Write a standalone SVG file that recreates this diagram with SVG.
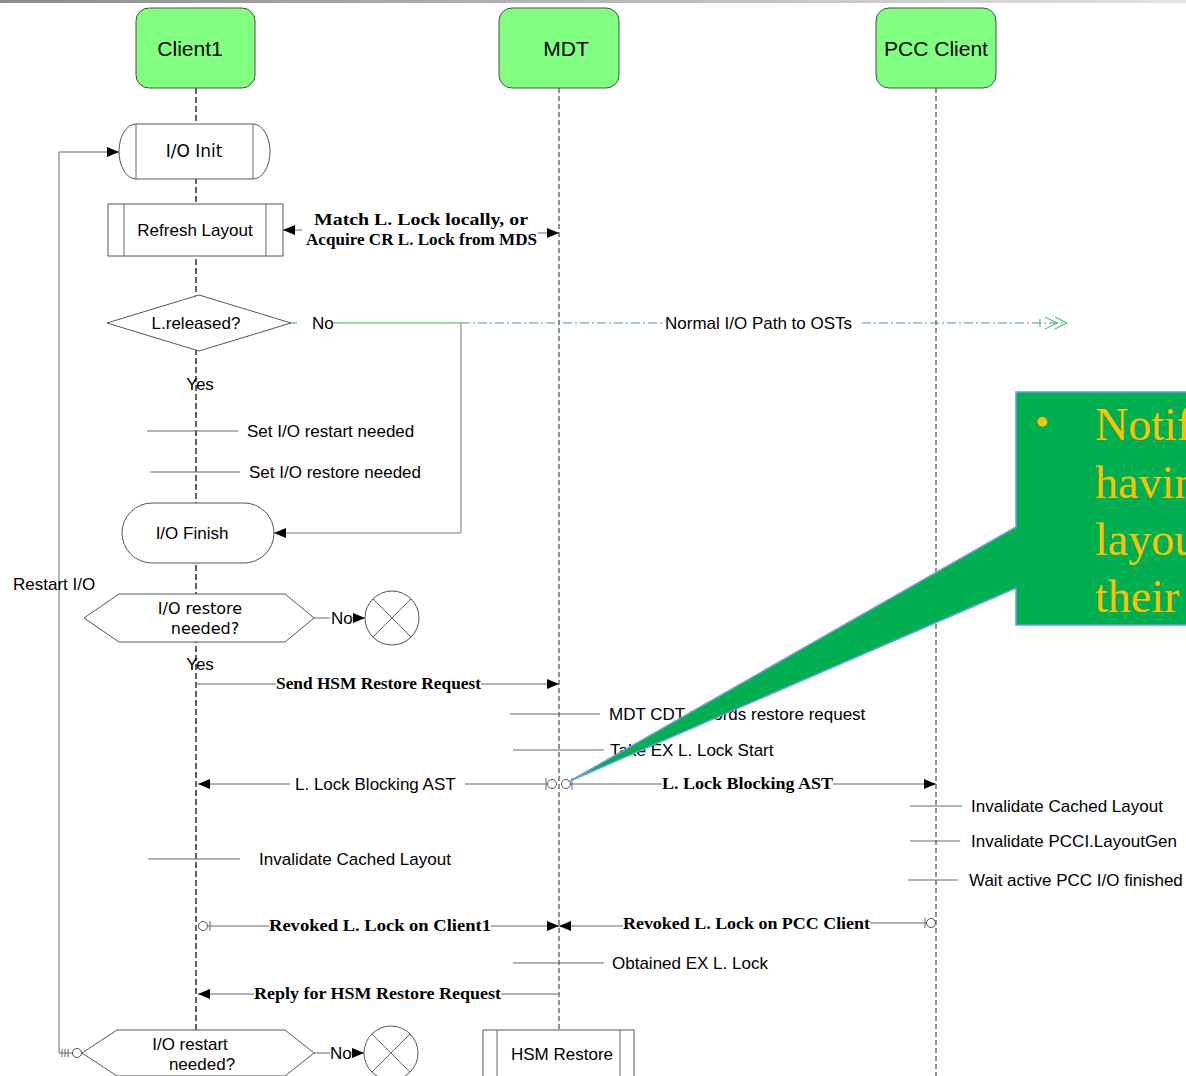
<svg xmlns="http://www.w3.org/2000/svg" width="1186" height="1076" viewBox="0 0 1186 1076">
  <defs>
    <linearGradient id="topbar" x1="0" y1="0" x2="1" y2="0">
      <stop offset="0" stop-color="#8c8c8c"/>
      <stop offset="1" stop-color="#e2e2e2"/>
    </linearGradient>
    <marker id="ah" viewBox="0 0 12 12" refX="12" refY="6" markerWidth="12" markerHeight="12" markerUnits="userSpaceOnUse" orient="auto">
      <path d="M0,1 L12,6 L0,11 Z" fill="#000"/>
    </marker>
    <style>
      .lbl { font-family: "Liberation Sans", Arial, sans-serif; font-size: 17px; fill: #000; }
      .big { font-size: 17px; }
      .head-t { font-family: "Liberation Sans", Arial, sans-serif; font-size: 21px; fill: #000; text-anchor: middle; }
      .dv { font-family: "DejaVu Sans", Verdana, sans-serif; font-size: 16px; fill: #000; text-anchor: middle; }
      .msg { font-family: "Liberation Serif", "Times New Roman", serif; font-weight: bold; font-size: 17px; fill: #000; }
      .mid { text-anchor: middle; }
      .head { fill: #80ff80; stroke: #4a4a4a; stroke-width: 1; }
      .shape { fill: #fff; stroke: #555; stroke-width: 1; }
      .life { stroke: #222; stroke-width: 1; stroke-dasharray: 5 3; fill: none; }
      .life-c { stroke: #111; stroke-width: 1.3; stroke-dasharray: 6 3; fill: none; }
      .conn { stroke: #666; stroke-width: 1; fill: none; }
      .arr { marker-end: url(#ah); }
      .note { stroke: #666; stroke-width: 1; }
      .green { stroke: #2eb35c; stroke-width: 1; fill: none; }
      .dashdot { stroke-dasharray: 9 3 2 3; }
      .endo { fill: #fff; stroke: #555; stroke-width: 1; }
      .call-t { font-family: "Liberation Serif", "Times New Roman", serif; font-size: 46px; fill: #ffc000; }
    </style>
  </defs>

  <rect x="0" y="0" width="1186" height="1076" fill="#fff"/>
  <rect x="0" y="0" width="1186" height="3" fill="url(#topbar)"/>

  <!-- lifelines -->
  <g id="lifelines">
    <path class="life-c" d="M196,88 V1030"/>
    <path class="life" d="M559,88 V1030"/>
    <path class="life" d="M936,88 V1076"/>
  </g>

  <!-- participants -->
  <g id="client1">
    <rect class="head" x="136" y="8" width="119" height="80" rx="13"/>
    <text class="head-t" x="190" y="56">Client1</text>
  </g>
  <g id="mdt">
    <rect class="head" x="499" y="8" width="120" height="80" rx="13"/>
    <text class="head-t" x="566" y="56">MDT</text>
  </g>
  <g id="pcc-client">
    <rect class="head" x="876" y="8" width="120" height="80" rx="13"/>
    <text class="head-t" x="936" y="56">PCC Client</text>
  </g>

  <!-- flow nodes on Client1 -->
  <g id="io-init">
    <path class="shape" d="M136,124 H253 A17,27.5 0 0 1 253,179 H136 A17,27.5 0 0 1 136,124 Z"/>
    <path class="conn" d="M136,124 V179 M253,124 V179"/>
    <text class="dv" x="194" y="157" style="font-size:17px">I/O Init</text>
  </g>
  <g id="refresh-layout">
    <rect class="shape" x="108" y="204" width="175" height="52"/>
    <path class="conn" d="M124,204 V256 M266,204 V256"/>
    <text class="lbl big mid" x="195" y="236">Refresh Layout</text>
  </g>
  <g id="l-released">
    <polygon class="shape" points="107,323 199,295 291,323 199,351"/>
    <text class="lbl big mid" x="196" y="329">L.released?</text>
  </g>
  <g id="io-finish">
    <rect class="shape" x="122" y="503" width="152" height="60" rx="30" ry="30"/>
    <text class="lbl big mid" x="192" y="539">I/O Finish</text>
  </g>
  <g id="io-restore-needed">
    <polygon class="shape" points="84,618 119,594 285,594 314,618 285,642 119,642"/>
    <text class="dv" x="200" y="614">I/O restore</text>
    <text class="dv" x="205" y="634">needed?</text>
  </g>
  <g id="end-restore">
    <circle class="shape" cx="392" cy="618" r="27"/>
    <path class="conn" d="M373,599 L411,637 M411,599 L373,637"/>
  </g>
  <g id="io-restart-needed">
    <polygon class="shape" points="82,1053 117,1030 285,1030 314,1053 285,1076 117,1076"/>
    <text class="lbl big mid" x="190" y="1050">I/O restart</text>
    <text class="lbl big mid" x="202" y="1070">needed?</text>
  </g>
  <g id="end-restart">
    <circle class="shape" cx="391" cy="1053" r="27"/>
    <path class="conn" d="M372,1034 L410,1072 M410,1034 L372,1072"/>
  </g>
  <g id="hsm-restore">
    <rect class="shape" x="483" y="1030" width="151" height="52"/>
    <path class="conn" d="M497,1030 V1082 M620,1030 V1082"/>
    <text class="lbl big mid" x="562" y="1060">HSM Restore</text>
  </g>

  <!-- connectors and messages -->
  <g id="connectors">
    <!-- restart loop -->
    <path class="conn arr" d="M73,1053 H59 V152 H119"/>
    <path class="conn" d="M62,1049 V1057 M65,1049 V1057 M68,1049 V1057"/>
    <circle class="endo" cx="77" cy="1053" r="4.5"/>
    <text class="lbl" x="13" y="590">Restart I/O</text>

    <!-- layout lock -->
    <path class="conn arr" d="M302,230 H283"/>
    <text class="msg" x="314" y="225" textLength="214" lengthAdjust="spacingAndGlyphs">Match L. Lock locally, or</text>
    <text class="msg" x="306" y="245" textLength="231" lengthAdjust="spacingAndGlyphs">Acquire CR L. Lock from MDS</text>
    <path class="conn arr" d="M538,233 H559"/>

    <!-- L.released? branches -->
    <path class="green" d="M291,323 H297"/>
    <text class="lbl" x="312" y="329">No</text>
    <path class="green" d="M333,323 H461"/>
    <path class="green dashdot" d="M461,323 H664"/>
    <text class="lbl" x="665" y="329">Normal I/O Path to OSTs</text>
    <path class="green dashdot" d="M862,323 H1066"/>
    <path class="green" d="M1040,319 V327 M1045,317 L1057,323 L1045,329 M1055,317 L1067,323 L1055,329"/>
    <path class="conn arr" d="M461,323 V533 H274" style="stroke:#777"/>
    <text class="lbl mid" x="200" y="390">Yes</text>

    <!-- client-side steps -->
    <path class="note" d="M147,431 H238"/>
    <text class="lbl" x="247" y="437">Set I/O restart needed</text>
    <path class="note" d="M150,472 H240"/>
    <text class="lbl" x="249" y="478">Set I/O restore needed</text>

    <!-- I/O restore needed? branches -->
    <path class="conn" d="M314,618 H330"/>
    <text class="lbl" x="331" y="624">No</text>
    <path class="conn arr" d="M351,618 H365"/>
    <text class="lbl mid" x="200" y="670">Yes</text>

    <!-- HSM restore request -->
    <path class="conn" d="M197,684 H276"/>
    <text class="msg" x="276" y="689" textLength="205" lengthAdjust="spacingAndGlyphs">Send HSM Restore Request</text>
    <path class="conn arr" d="M481,684 H559"/>

    <path class="note" d="M510,714 H600"/>
    <text class="lbl" x="609" y="720">MDT CDT records restore request</text>
    <path class="note" d="M513,750 H604"/>
    <text class="lbl" x="610" y="756">Take EX L. Lock Start</text>

    <!-- blocking ASTs -->
    <path class="conn arr" d="M290,784 H198"/>
    <text class="lbl" x="295" y="790">L. Lock Blocking AST</text>
    <path class="conn" d="M465,784 H548 M546,778 V790"/>
    <circle class="endo" cx="552" cy="784" r="4.5"/>
    <circle class="endo" cx="566" cy="784" r="4.5"/>
    <path class="conn" d="M572,778 V790 M570,784 H662"/>
    <text class="msg" x="662" y="789" textLength="171" lengthAdjust="spacingAndGlyphs">L.  Lock Blocking AST</text>
    <path class="conn arr" d="M833,784 H936"/>

    <!-- PCC client steps -->
    <path class="note" d="M910,806 H962"/>
    <text class="lbl" x="971" y="812">Invalidate Cached Layout</text>
    <path class="note" d="M910,841 H960"/>
    <text class="lbl" x="971" y="847">Invalidate PCCI.LayoutGen</text>
    <path class="note" d="M908,880 H958"/>
    <text class="lbl" x="969" y="886">Wait active PCC I/O finished</text>

    <!-- Client1 step -->
    <path class="note" d="M148,859 H240"/>
    <text class="lbl" x="259" y="865">Invalidate Cached Layout</text>

    <!-- revoke replies -->
    <circle class="endo" cx="203" cy="926" r="4.5"/>
    <path class="conn" d="M210,921 V931 M208,926 H269"/>
    <text class="msg" x="269" y="931" textLength="222" lengthAdjust="spacingAndGlyphs">Revoked L. Lock on Client1</text>
    <path class="conn arr" d="M491,926 H559"/>
    <path class="conn arr" d="M623,926 H559"/>
    <text class="msg" x="623" y="929" textLength="247" lengthAdjust="spacingAndGlyphs">Revoked L. Lock on PCC Client</text>
    <path class="conn" d="M870,923 H926 M925,918 V928"/>
    <circle class="endo" cx="931" cy="923" r="4.5"/>

    <path class="note" d="M513,963 H604"/>
    <text class="lbl" x="612" y="969">Obtained EX L. Lock</text>

    <path class="conn arr" d="M254,994 H198"/>
    <text class="msg" x="254" y="999" textLength="247" lengthAdjust="spacingAndGlyphs">Reply for HSM Restore Request</text>
    <path class="conn" d="M501,994 H559"/>

    <!-- I/O restart needed? branch -->
    <path class="conn" d="M314,1053 H330"/>
    <text class="lbl" x="330" y="1059">No</text>
    <path class="conn arr" d="M350,1053 H364"/>
  </g>

  <!-- callout note -->
  <g id="callout">
    <path d="M1016,392 H1192 V625 H1016 V588 L570,781 L1016,527 Z" fill="#00b050" stroke="#6a9fd8" stroke-width="1.5"/>
    <text class="call-t" x="1035" y="436" style="font-size:40px">•</text>
    <text class="call-t" x="1095" y="440">Notif</text>
    <text class="call-t" x="1095" y="498">havin</text>
    <text class="call-t" x="1095" y="555">layou</text>
    <text class="call-t" x="1095" y="612">their</text>
  </g>
</svg>
